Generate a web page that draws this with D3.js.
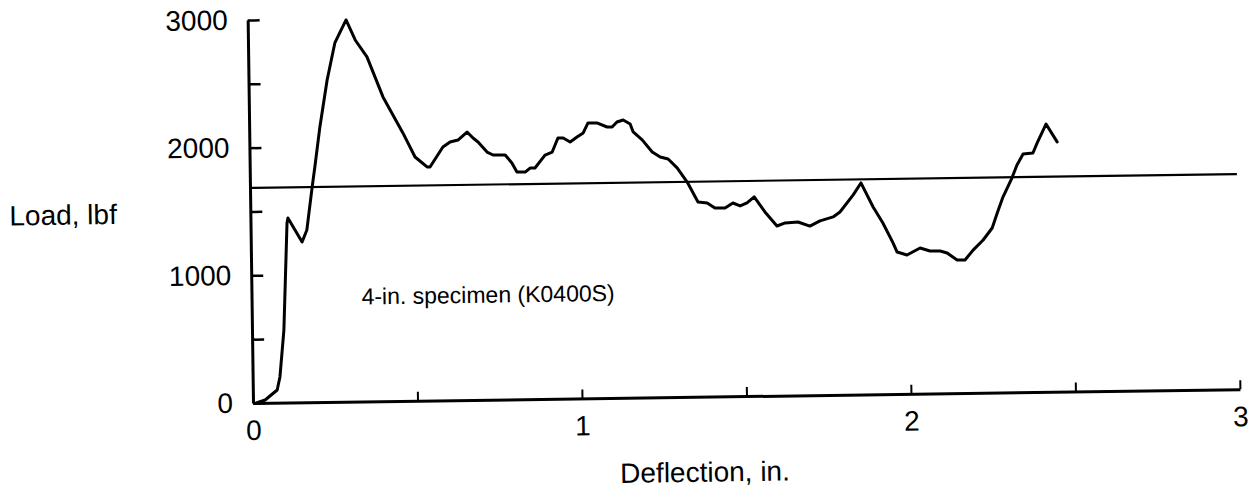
<!DOCTYPE html>
<html>
<head>
<meta charset="utf-8">
<script src="https://cdn.jsdelivr.net/npm/d3@7"></script>
<style>
  html, body { margin: 0; padding: 0; background: #fff; }
  svg { display: block; }
  text { font-family: "Liberation Sans", Arial, Helvetica, sans-serif; fill: #000; }
</style>
</head>
<body>
<svg id="chart" width="1252" height="495"></svg>
<script>
// ---- data ----
const deflection = [0.01, 0.037, 0.074, 0.083, 0.097, 0.111, 0.114, 0.135, 0.156, 0.171, 0.189, 0.198, 0.215, 0.239, 0.264, 0.299,
  0.326, 0.361, 0.408, 0.467, 0.503, 0.539, 0.548, 0.588, 0.610, 0.634, 0.662, 0.680, 0.695, 0.722, 0.740, 0.777, 0.797, 0.812,
  0.838, 0.852, 0.867, 0.898, 0.920, 0.938, 0.954, 0.975, 0.996, 1.015, 1.030, 1.057, 1.088, 1.103, 1.118, 1.137, 1.158, 1.167,
  1.194, 1.224, 1.248, 1.272, 1.299, 1.329, 1.361, 1.389, 1.412, 1.443, 1.467, 1.489, 1.510, 1.532, 1.564, 1.600, 1.625, 1.664,
  1.700, 1.731, 1.771, 1.792, 1.833, 1.857, 1.893, 1.922, 1.952, 1.964, 1.994, 2.034, 2.064, 2.095, 2.116, 2.146, 2.170, 2.195,
  2.226, 2.254, 2.270, 2.288, 2.316, 2.332, 2.351, 2.381, 2.394, 2.422, 2.455];
const load = [0, 22, 99, 201, 568, 1406, 1445, 1350, 1256, 1349, 1686, 1842, 2155, 2522, 2811, 2990,
  2832, 2698, 2383, 2099, 1909, 1830, 1829, 1984, 2023, 2037, 2099, 2051, 2020, 1940, 1916, 1915, 1852, 1781,
  1780, 1810, 1810, 1910, 1933, 2042, 2042, 2010, 2048, 2079, 2157, 2156, 2123, 2122, 2161, 2176, 2144, 2081,
  2018, 1922, 1882, 1866, 1795, 1683, 1526, 1517, 1477, 1476, 1514, 1490, 1513, 1559, 1440, 1329, 1352, 1358,
  1325, 1364, 1394, 1432, 1564, 1657, 1467, 1341, 1184, 1112, 1088, 1141, 1116, 1115, 1099, 1043, 1042, 1119,
  1197, 1290, 1407, 1531, 1679, 1780, 1866, 1873, 1950, 2098, 1957];
const refLoad = 1685;
const xTicks = [0, 0.5, 1, 1.5, 2, 2.5, 3];
const xTickLabels = ["0", "", "1", "", "2", "", "3"];
const yTicks = [0, 500, 1000, 1500, 2000, 2500, 3000];
const yTickLabels = ["0", "", "1000", "", "2000", "", "3000"];
const xTitle = "Deflection, in.";
const yTitle = "Load, lbf";
const note = "4-in. specimen (K0400S)";

// ---- layout ----
const ox = 253, oy = 403, W = 987, H = 383;
const svg = d3.select("#chart");
const g = svg.append("g")
  .attr("transform", `translate(${ox},${oy}) rotate(-0.8)`);

const x = d3.scaleLinear().domain([0, 3]).range([0, W]);
const y = d3.scaleLinear().domain([0, 3000]).range([0, -H]);

// y axis
const yAxis = d3.axisLeft(y).tickValues(yTicks).tickSize(-12).tickSizeOuter(0).tickPadding(20)
  .tickFormat((d, i) => yTickLabels[i]);
const gy = g.append("g").call(yAxis);
gy.select(".domain").attr("stroke", "#000").attr("stroke-width", 3);
gy.selectAll(".tick line").attr("stroke", "#000").attr("stroke-width", 2.5);
gy.selectAll(".tick text").attr("font-size", 28).attr("font-family", "Liberation Sans, Arial, sans-serif");

// x axis
const xAxis = d3.axisBottom(x).tickValues(xTicks).tickSize(-9).tickSizeOuter(0).tickPadding(17)
  .tickFormat((d, i) => xTickLabels[i]);
const gx = g.append("g").call(xAxis);
gx.select(".domain").attr("stroke", "#000").attr("stroke-width", 3);
gx.selectAll(".tick line").attr("stroke", "#000").attr("stroke-width", 2);
gx.selectAll(".tick text").attr("font-size", 28).attr("font-family", "Liberation Sans, Arial, sans-serif");

// reference line
g.append("line")
  .attr("x1", x(0)).attr("x2", x(3))
  .attr("y1", y(refLoad)).attr("y2", y(refLoad))
  .attr("stroke", "#000").attr("stroke-width", 2.2);

// curve
const pts = deflection.map((d, i) => [d, load[i]]);
const line = d3.line().x(d => x(d[0])).y(d => y(d[1])).curve(d3.curveLinear);
g.append("path").datum(pts)
  .attr("d", line)
  .attr("fill", "none").attr("stroke", "#000").attr("stroke-width", 3)
  .attr("stroke-linejoin", "round").attr("stroke-linecap", "round");

// titles
g.append("text").attr("x", 12 - ox).attr("y", 222 - oy)
  .attr("font-size", 28).text(yTitle);
g.append("text").attr("x", 704 - ox).attr("y", 488 - oy)
  .attr("text-anchor", "middle").attr("font-size", 28).text(xTitle);
g.append("text").attr("x", 363 - ox).attr("y", 306 - oy)
  .attr("font-size", 23).text(note);
</script>
</body>
</html>
